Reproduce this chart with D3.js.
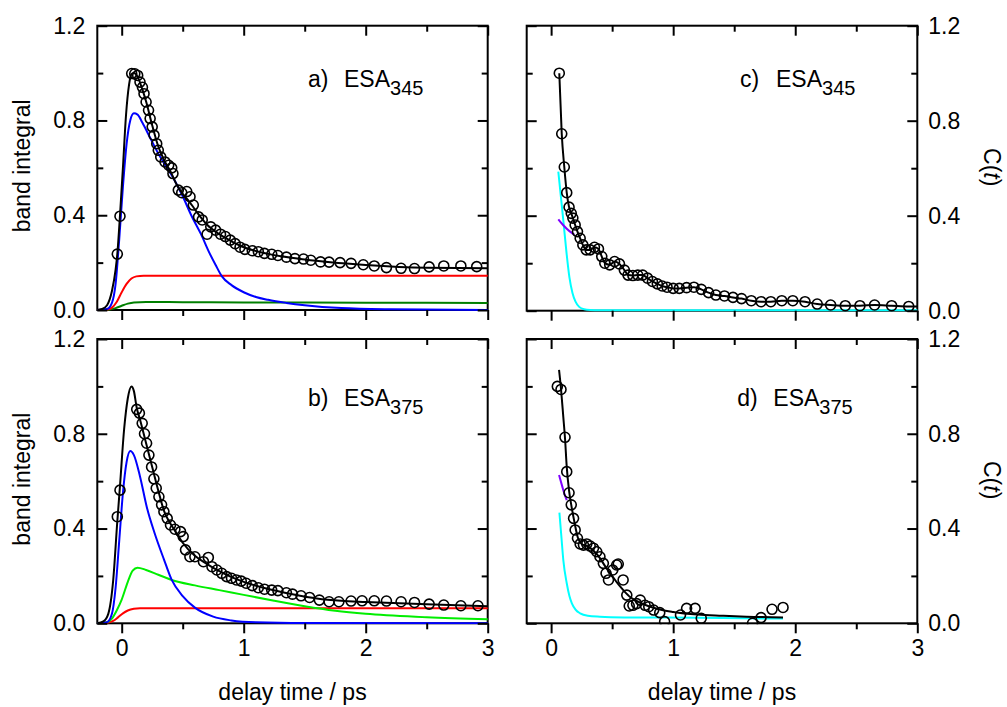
<!DOCTYPE html>
<html>
<head>
<meta charset="utf-8">
<script src="https://cdn.jsdelivr.net/npm/d3@7"></script>
<style>
  body { margin: 0; background: #fff; }
  text { font-family: "Liberation Sans", Arial, sans-serif; fill: #000; }
</style>
</head>
<body>
<div id="app"></div>
<script>
const xTicks = [0, 1, 2, 3]
const xMinor = [0.5, 1.5, 2.5]
const yTicks = [0, 0.4, 0.8, 1.2]
const yMinor = [0.2, 0.6, 1.0]

// a) ESA345, band integral
const aPoints = [[-0.036,0.236],[-0.014,0.396],[0.082,0.998],[0.107,0.997],[0.131,0.99],[0.15,0.962],[0.17,0.94],[0.183,0.913],[0.2,0.878],[0.22,0.843],[0.233,0.808],[0.25,0.773],[0.265,0.738],[0.287,0.702],[0.3,0.674],[0.32,0.646],[0.355,0.625],[0.385,0.611],[0.41,0.6],[0.42,0.576],[0.464,0.506],[0.492,0.495],[0.533,0.5],[0.56,0.478],[0.587,0.443],[0.63,0.393],[0.66,0.38],[0.7,0.32],[0.73,0.351],[0.77,0.337],[0.81,0.32],[0.85,0.31],[0.89,0.295],[0.93,0.28],[0.97,0.265],[1.01,0.256],[1.07,0.25],[1.12,0.246],[1.17,0.239],[1.23,0.235],[1.28,0.23],[1.35,0.223],[1.42,0.217],[1.49,0.215],[1.55,0.21],[1.63,0.203],[1.7,0.202],[1.79,0.2],[1.88,0.197],[1.98,0.191],[2.07,0.186],[2.17,0.179],[2.29,0.176],[2.4,0.175],[2.52,0.182],[2.64,0.186],[2.78,0.186],[2.91,0.183]]
const aFit = [[-0.2,0],[-0.16,0.004],[-0.12,0.02],[-0.08,0.08],[-0.05,0.17],[-0.036,0.236],[-0.014,0.4],[0.01,0.6],[0.035,0.82],[0.06,0.95],[0.08,0.995],[0.1,1.0],[0.13,0.985],[0.17,0.93],[0.2,0.88],[0.25,0.78],[0.3,0.69],[0.35,0.63],[0.4,0.585],[0.45,0.53],[0.5,0.49],[0.55,0.46],[0.6,0.425],[0.65,0.39],[0.7,0.36],[0.8,0.32],[0.9,0.29],[1.0,0.265],[1.2,0.237],[1.5,0.213],[2.0,0.19],[2.5,0.178],[3.0,0.176]]
const aBlue = [[-0.2,0],[-0.12,0.004],[-0.08,0.03],[-0.05,0.11],[-0.02,0.3],[0.01,0.52],[0.04,0.7],[0.07,0.8],[0.1,0.83],[0.13,0.825],[0.17,0.79],[0.23,0.73],[0.3,0.66],[0.42,0.56],[0.5,0.48],[0.57,0.4],[0.65,0.32],[0.72,0.24],[0.77,0.19],[0.82,0.143],[0.9,0.105],[1.0,0.075],[1.1,0.055],[1.2,0.043],[1.35,0.03],[1.5,0.02],[1.8,0.008],[2.2,0.003],[3.0,0]]
const aRed = [[-0.2,0],[-0.12,0.002],[-0.08,0.01],[-0.04,0.035],[0,0.075],[0.04,0.11],[0.08,0.133],[0.12,0.142],[0.18,0.145],[3.0,0.145]]
const aGreen = [[-0.2,0],[-0.1,0.002],[-0.05,0.008],[0,0.018],[0.05,0.027],[0.1,0.032],[0.2,0.034],[0.5,0.033],[1.0,0.032],[2.0,0.031],[3.0,0.03]]

// b) ESA375, band integral
const bPoints = [[-0.036,0.45],[-0.014,0.562],[0.123,0.903],[0.145,0.887],[0.168,0.844],[0.187,0.8],[0.204,0.76],[0.223,0.71],[0.245,0.66],[0.264,0.61],[0.283,0.57],[0.305,0.534],[0.327,0.5],[0.346,0.471],[0.373,0.443],[0.4,0.415],[0.436,0.397],[0.482,0.387],[0.504,0.366],[0.523,0.31],[0.559,0.281],[0.6,0.281],[0.67,0.26],[0.71,0.278],[0.74,0.239],[0.78,0.225],[0.82,0.211],[0.86,0.197],[0.9,0.19],[0.94,0.183],[0.98,0.178],[1.02,0.169],[1.07,0.159],[1.12,0.15],[1.17,0.144],[1.23,0.14],[1.28,0.138],[1.35,0.129],[1.4,0.123],[1.47,0.116],[1.54,0.109],[1.62,0.098],[1.7,0.091],[1.78,0.091],[1.88,0.094],[1.97,0.095],[2.07,0.095],[2.17,0.094],[2.29,0.091],[2.4,0.088],[2.52,0.081],[2.64,0.077],[2.78,0.074],[2.92,0.074]]
const bFit = [[-0.2,0],[-0.15,0.008],[-0.11,0.04],[-0.07,0.18],[-0.036,0.43],[-0.014,0.58],[0.02,0.82],[0.05,0.95],[0.08,1.0],[0.1,0.98],[0.123,0.91],[0.15,0.86],[0.2,0.76],[0.25,0.66],[0.3,0.56],[0.35,0.47],[0.4,0.42],[0.45,0.38],[0.5,0.34],[0.6,0.285],[0.7,0.25],[0.8,0.22],[0.9,0.195],[1.0,0.175],[1.2,0.145],[1.4,0.123],[1.6,0.105],[1.8,0.095],[2.0,0.09],[2.5,0.08],[3.0,0.072]]
const bBlue = [[-0.2,0],[-0.12,0.005],[-0.08,0.04],[-0.05,0.15],[-0.02,0.35],[0.01,0.55],[0.04,0.68],[0.07,0.727],[0.1,0.71],[0.15,0.62],[0.206,0.49],[0.27,0.38],[0.346,0.27],[0.41,0.183],[0.5,0.115],[0.6,0.066],[0.75,0.028],[0.9,0.012],[1.1,0.004],[1.5,0.001],[3.0,0]]
const bGreen = [[-0.2,0],[-0.12,0.005],[-0.08,0.02],[-0.04,0.055],[0,0.1],[0.05,0.175],[0.09,0.222],[0.13,0.235],[0.2,0.225],[0.3,0.205],[0.41,0.183],[0.6,0.16],[0.8,0.14],[1.0,0.12],[1.25,0.095],[1.5,0.072],[1.75,0.053],[2.0,0.04],[2.5,0.026],[3.0,0.017]]
const bRed = [[-0.2,0],[-0.12,0.002],[-0.07,0.01],[-0.03,0.025],[0.01,0.042],[0.05,0.054],[0.1,0.061],[0.15,0.063],[3.0,0.063]]

// c) ESA345, C(t)
const cPoints = [[0.067,1.0],[0.087,0.745],[0.108,0.605],[0.128,0.497],[0.147,0.436],[0.165,0.41],[0.178,0.39],[0.197,0.361],[0.216,0.333],[0.238,0.305],[0.26,0.277],[0.288,0.256],[0.32,0.256],[0.355,0.267],[0.388,0.26],[0.415,0.228],[0.44,0.2],[0.48,0.193],[0.52,0.207],[0.56,0.197],[0.6,0.171],[0.63,0.15],[0.67,0.148],[0.71,0.15],[0.75,0.15],[0.79,0.137],[0.83,0.123],[0.87,0.113],[0.91,0.104],[0.95,0.099],[1.0,0.094],[1.05,0.094],[1.11,0.097],[1.17,0.099],[1.23,0.09],[1.29,0.076],[1.35,0.066],[1.42,0.062],[1.49,0.056],[1.56,0.051],[1.64,0.042],[1.72,0.038],[1.8,0.038],[1.89,0.042],[1.98,0.042],[2.08,0.038],[2.18,0.028],[2.29,0.024],[2.41,0.021],[2.53,0.021],[2.65,0.024],[2.79,0.021],[2.93,0.018]]
const cFit = cPoints.concat([[3.0,0.018]])
const cCyan = [[0.059,0.586],[0.08,0.48],[0.1,0.38],[0.125,0.25],[0.15,0.14],[0.175,0.075],[0.2,0.038],[0.23,0.016],[0.27,0.006],[0.32,0.003],[0.4,0.002],[3.0,0.002]]
const cPurple = [[0.059,0.385],[0.1,0.36],[0.15,0.335],[0.19,0.32]]

// d) ESA375, C(t)
const dPoints = [[0.051,1.0],[0.081,0.987],[0.114,0.785],[0.128,0.64],[0.147,0.551],[0.165,0.5],[0.184,0.443],[0.197,0.394],[0.216,0.359],[0.238,0.335],[0.265,0.33],[0.292,0.335],[0.32,0.326],[0.347,0.317],[0.374,0.302],[0.4,0.281],[0.428,0.253],[0.45,0.211],[0.47,0.183],[0.505,0.225],[0.537,0.246],[0.55,0.25],[0.59,0.183],[0.62,0.119],[0.64,0.073],[0.67,0.076],[0.7,0.083],[0.73,0.098],[0.77,0.076],[0.8,0.07],[0.84,0.056],[0.89,0.045],[0.93,0.007],[1.06,0.035],[1.11,0.063],[1.18,0.063],[1.23,0.021],[1.65,0.0],[1.72,0.024],[1.81,0.059],[1.9,0.067]]
const dFit = [[0.065,1.07],[0.081,0.99],[0.1,0.87],[0.114,0.78],[0.128,0.66],[0.147,0.56],[0.165,0.5],[0.19,0.43],[0.22,0.36],[0.25,0.335],[0.3,0.325],[0.35,0.305],[0.4,0.275],[0.45,0.235],[0.5,0.2],[0.55,0.165],[0.6,0.135],[0.65,0.11],[0.7,0.095],[0.8,0.072],[0.9,0.057],[1.0,0.048],[1.2,0.037],[1.4,0.032],[1.6,0.028],[1.9,0.025]]
const dCyan = [[0.068,0.467],[0.085,0.36],[0.1,0.267],[0.128,0.169],[0.15,0.115],[0.17,0.084],[0.2,0.058],[0.238,0.042],[0.3,0.032],[0.4,0.028],[0.6,0.025],[0.95,0.024],[1.4,0.022],[1.9,0.02]]
const dPurple = [[0.065,0.626],[0.09,0.58],[0.11,0.545],[0.128,0.52]]

const width = 1007
const height = 707

const panels = [
  { id: 'a', left: 97.3, right: 487.7, top: 25.7, bottom: 310, side: 'left', xLabels: false,
    tag: 'a)', sub: '345', lx: 308, ly: 87.3, points: aPoints,
    lines: [[aGreen, '#007f00'], [aRed, '#ff0000'], [aBlue, '#0000ff'], [aFit, '#000']] },
  { id: 'b', left: 97.3, right: 487.7, top: 339, bottom: 623.3, side: 'left', xLabels: true,
    tag: 'b)', sub: '375', lx: 308, ly: 406, points: bPoints,
    lines: [[bRed, '#ff0000'], [bGreen, '#00ee00'], [bBlue, '#0000ff'], [bFit, '#000']] },
  { id: 'c', left: 526.7, right: 917.3, top: 25.7, bottom: 310.7, side: 'right', xLabels: false,
    tag: 'c)', sub: '345', lx: 740, ly: 87.3, points: cPoints,
    lines: [[cCyan, '#00ffff'], [cPurple, '#7f00ff'], [cFit, '#000']] },
  { id: 'd', left: 526.7, right: 917.3, top: 339, bottom: 623.3, side: 'right', xLabels: true,
    tag: 'd)', sub: '375', lx: 737.3, ly: 406, points: dPoints,
    lines: [[dCyan, '#00ffff'], [dPurple, '#7f00ff'], [dFit, '#000']] }
]

const svg = d3.select('#app')
  .append('svg')
  .attr('width', width)
  .attr('height', height)
  .attr('viewBox', [0, 0, width, height])

const fs = 23

panels.forEach(p => {
  const x = d3.scaleLinear().domain([-0.2, 3]).range([p.left, p.right])
  const y = d3.scaleLinear().domain([0, 1.2]).range([p.bottom, p.top])

  // frame first so curves lying on zero stay visible
  svg.append('rect')
    .attr('x', p.left)
    .attr('y', p.top)
    .attr('width', p.right - p.left)
    .attr('height', p.bottom - p.top)
    .attr('fill', 'none')
    .attr('stroke', '#000')
    .attr('stroke-width', 2)

  svg.append('clipPath')
    .attr('id', 'clip-' + p.id)
    .append('rect')
    .attr('x', p.left)
    .attr('y', p.top)
    .attr('width', p.right - p.left + 1)
    .attr('height', p.bottom - p.top + 1)

  const g = svg.append('g').attr('clip-path', `url(#clip-${p.id})`)

  const line = d3.line()
    .x(d => x(d[0]))
    .y(d => y(d[1]))
    .curve(d3.curveMonotoneX)

  p.lines.forEach(([data, color]) => {
    g.append('path')
      .attr('d', line(data))
      .attr('fill', 'none')
      .attr('stroke', color)
      .attr('stroke-width', 2)
  })

  g.selectAll('circle')
    .data(p.points)
    .join('circle')
    .attr('cx', d => x(d[0]))
    .attr('cy', d => y(d[1]))
    .attr('r', 5)
    .attr('fill', 'none')
    .attr('stroke', '#000')
    .attr('stroke-width', 1.6)

  // axes, ticks in except the bottom one
  const axes = [
    [d3.axisBottom(x).tickValues(xTicks).tickSize(10).tickPadding(6)
      .tickFormat(p.xLabels ? d3.format('d') : ''), `translate(0,${p.bottom})`],
    [d3.axisBottom(x).tickValues(xMinor).tickSize(6).tickFormat(''), `translate(0,${p.bottom})`],
    [d3.axisTop(x).tickValues(xTicks).tickSize(-10).tickFormat(''), `translate(0,${p.top})`],
    [d3.axisTop(x).tickValues(xMinor).tickSize(-6).tickFormat(''), `translate(0,${p.top})`],
    [d3.axisLeft(y).tickValues(yTicks).tickSize(-10).tickPadding(12)
      .tickFormat(p.side === 'left' ? d3.format('.1f') : ''), `translate(${p.left},0)`],
    [d3.axisLeft(y).tickValues(yMinor).tickSize(-6).tickFormat(''), `translate(${p.left},0)`],
    [d3.axisRight(y).tickValues(yTicks).tickSize(-10).tickPadding(11)
      .tickFormat(p.side === 'right' ? d3.format('.1f') : ''), `translate(${p.right},0)`],
    [d3.axisRight(y).tickValues(yMinor).tickSize(-6).tickFormat(''), `translate(${p.right},0)`]
  ]

  axes.forEach(([axis, tr]) => {
    const a = svg.append('g').attr('transform', tr).call(axis)
    a.select('.domain').remove()
    a.selectAll('.tick line').attr('stroke', '#000').attr('stroke-width', 2)
    a.selectAll('.tick text')
      .attr('font-size', fs)
      .attr('font-family', '"Liberation Sans", Arial, sans-serif')
      .attr('fill', '#000')
  })

  const label = svg.append('text')
    .attr('x', p.lx)
    .attr('y', p.ly)
    .attr('font-size', fs)
  label.append('tspan').text(p.tag)
  label.append('tspan').attr('x', p.lx + 36).text('ESA')
  label.append('tspan').attr('font-size', 20).attr('dy', 8).text(p.sub)

  const cy = (p.top + p.bottom) / 2
  if (p.side === 'left') {
    svg.append('text')
      .attr('transform', `translate(30,${cy - 2}) rotate(-90)`)
      .attr('text-anchor', 'middle')
      .attr('font-size', fs)
      .text('band integral')
  } else {
    const t = svg.append('text')
      .attr('transform', `translate(984,${cy - 1}) rotate(90)`)
      .attr('text-anchor', 'middle')
      .attr('font-size', fs)
    t.append('tspan').text('C(')
    t.append('tspan').attr('font-style', 'italic').text('t')
    t.append('tspan').text(')')
  }

  if (p.xLabels) {
    svg.append('text')
      .attr('x', (p.left + p.right) / 2)
      .attr('y', 700)
      .attr('text-anchor', 'middle')
      .attr('font-size', fs)
      .text('delay time / ps')
  }
})
</script>
</body>
</html>
